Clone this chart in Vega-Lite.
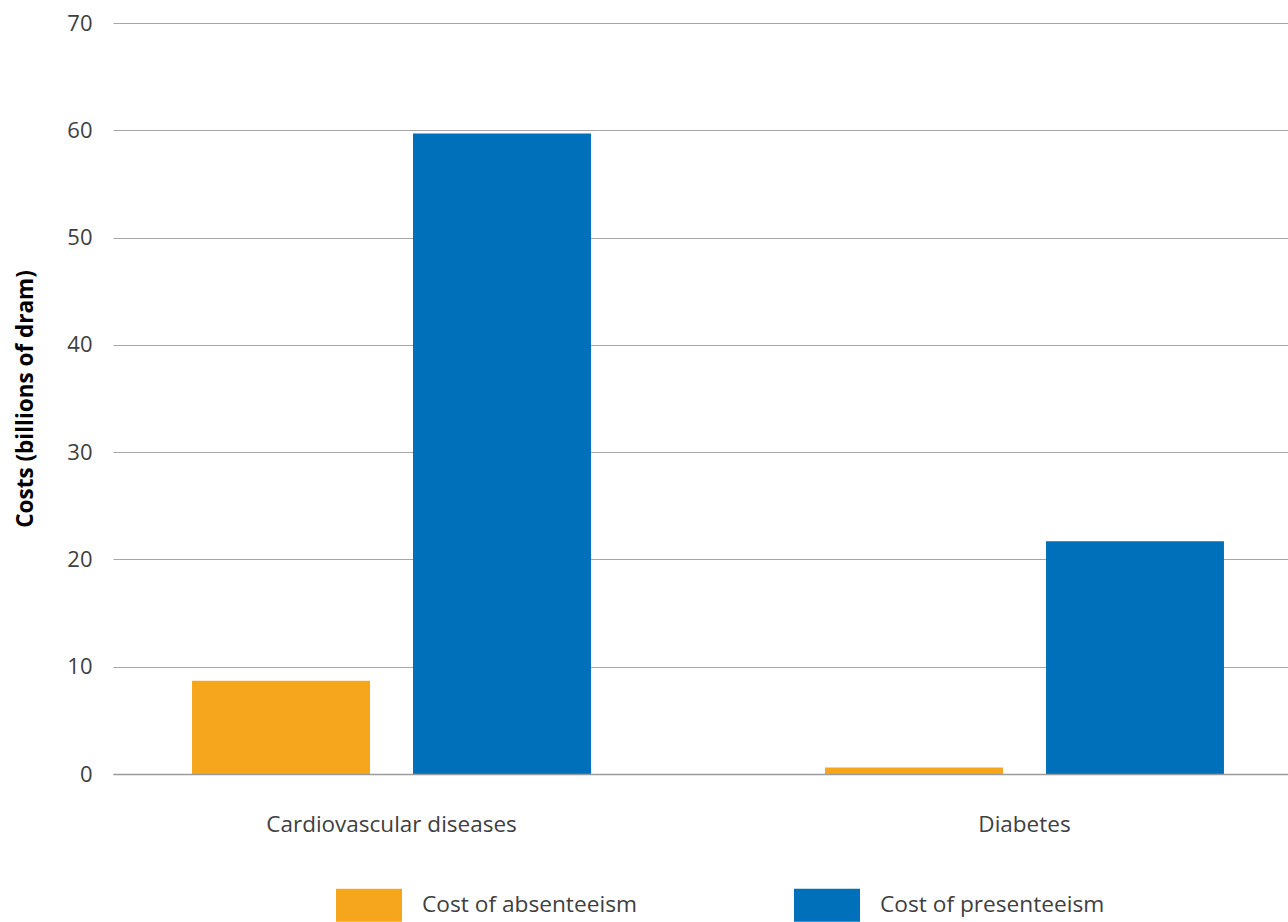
{
  "$schema": "https://vega.github.io/schema/vega-lite/v6.json",
  "width": 1175,
  "height": 751,
  "autosize": {"type": "none"},
  "padding": {"left": 113, "top": 23, "right": 0, "bottom": 148},
  "background": "white",
  "config": {"view": {"stroke": null}, "font": "Open Sans"},
  "data": {
    "values": [
      {"disease": "Cardiovascular diseases", "series": "Cost of absenteeism", "value": 8.7},
      {"disease": "Cardiovascular diseases", "series": "Cost of presenteeism", "value": 59.7},
      {"disease": "Diabetes", "series": "Cost of absenteeism", "value": 0.6},
      {"disease": "Diabetes", "series": "Cost of presenteeism", "value": 21.7}
    ]
  },
  "mark": {"type": "bar"},
  "encoding": {
    "x": {
      "field": "disease",
      "type": "nominal",
      "scale": {"paddingInner": 0.3697, "paddingOuter": 0.113, "align": 0.5524},
      "axis": {
        "title": null,
        "labelAngle": 0,
        "ticks": false,
        "domain": true,
        "domainColor": "#9a9a9a",
        "domainWidth": 1.5,
        "labelFontSize": 22.5,
        "labelColor": "#404040",
        "labelPadding": 39,
        "labelLimit": 500,
        "zindex": 1
      }
    },
    "xOffset": {
      "field": "series",
      "type": "nominal",
      "scale": {"paddingInner": 0.1946, "paddingOuter": 0}
    },
    "y": {
      "field": "value",
      "type": "quantitative",
      "scale": {"domain": [0, 70]},
      "axis": {
        "title": "Costs (billions of dram)",
        "values": [0, 10, 20, 30, 40, 50, 60, 70],
        "domain": false,
        "ticks": false,
        "labelFontSize": 22,
        "labelColor": "#404040",
        "labelPadding": 21,
        "gridColor": "#a6a6a6",
        "gridWidth": 1,
        "titleFontSize": 22.5,
        "titleFontWeight": "bold",
        "titleColor": "#000000",
        "titlePadding": 29
      }
    },
    "color": {
      "field": "series",
      "type": "nominal",
      "scale": {"range": ["#F5A61D", "#0070BA"]},
      "legend": {
        "title": null,
        "orient": "none",
        "direction": "horizontal",
        "legendX": 223,
        "legendY": 849,
        "symbolType": "M-1,-0.5H1V0.5H-1Z",
        "symbolSize": 4356,
        "symbolStrokeWidth": 0,
        "symbolOpacity": 1,
        "labelFontSize": 22.7,
        "labelColor": "#404040",
        "labelOffset": 20,
        "columnPadding": 157,
        "labelLimit": 400,
        "labelBaseline": "middle"
      }
    }
  }
}
